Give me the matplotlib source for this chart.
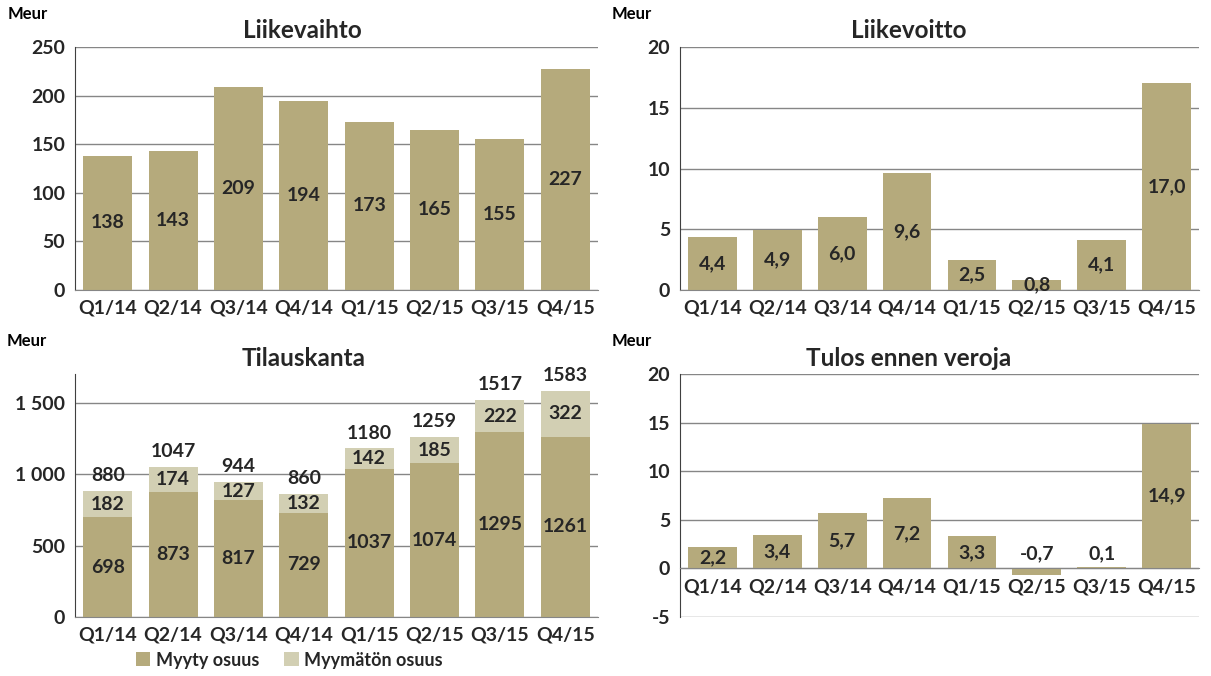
import matplotlib.pyplot as plt
import numpy as np

quarters = ['Q1/14', 'Q2/14', 'Q3/14', 'Q4/14', 'Q1/15', 'Q2/15', 'Q3/15', 'Q4/15']

liikevaihto = [138, 143, 209, 194, 173, 165, 155, 227]
liikevoitto = [4.4, 4.9, 6.0, 9.6, 2.5, 0.8, 4.1, 17.0]
tulos = [2.2, 3.4, 5.7, 7.2, 3.3, -0.7, 0.1, 14.9]
myyty = [698, 873, 817, 729, 1037, 1074, 1295, 1261]
myymaton = [182, 174, 127, 132, 142, 185, 222, 322]
tilauskanta = [880, 1047, 944, 860, 1180, 1259, 1517, 1583]

BAR = '#b5aa7c'
LIGHT = '#d2cfb3'
TXT = '#262626'
GRID = '#868686'
FS = 14

plt.rcParams['font.family'] = ['Lato', 'DejaVu Sans']
plt.rcParams['font.weight'] = 'bold'

fig = plt.figure(figsize=(12.11, 6.76), dpi=100)
W, H = 1211.0, 676.0


def make_ax(x0, x1, y0, y1):
    return fig.add_axes([x0 / W, 1 - y1 / H, (x1 - x0) / W, (y1 - y0) / H])


def style(ax, ylim, step, fmt):
    ax.set_ylim(*ylim)
    ax.set_xlim(-0.5, len(quarters) - 0.5)
    ticks = np.arange(ylim[0], ylim[1] + step / 2, step)
    ax.set_yticks(ticks)
    ax.set_yticklabels([fmt(t) for t in ticks])
    ax.yaxis.grid(True, color=GRID, linewidth=1)
    ax.set_axisbelow(True)
    for s in ['top', 'right']:
        ax.spines[s].set_visible(False)
    ax.spines['left'].set_color('#404040')
    ax.spines['bottom'].set_color(GRID)
    ax.tick_params(axis='both', length=0, labelsize=FS, labelcolor=TXT, pad=7)
    ax.set_xticks(range(len(quarters)))
    ax.set_xticklabels(quarters, fontweight='bold')
    for lab in ax.get_yticklabels():
        lab.set_fontweight('bold')


def header(ax_x, title, cx, ty, my):
    fig.text(ax_x / W, 1 - my / H, 'Meur', fontsize=12, color='black', va='center', fontweight='bold')
    fig.text(cx / W, 1 - ty / H, title, fontsize=17.5, color=TXT, ha='center', va='center',
             fontweight='bold')


x = np.arange(len(quarters))

# Liikevaihto
ax1 = make_ax(75, 598, 47, 290)
style(ax1, (0, 250), 50, lambda t: f'{int(t)}')
ax1.bar(x, liikevaihto, width=0.75, color=BAR)
for i, v in enumerate(liikevaihto):
    ax1.text(i, v / 2, f'{v}', ha='center', va='center', fontsize=FS, color=TXT, fontweight='bold')
header(8, 'Liikevaihto', 302, 31, 14)

# Liikevoitto
ax2 = make_ax(680, 1199, 47, 290)
style(ax2, (0, 20), 5, lambda t: f'{int(t)}')
ax2.bar(x, liikevoitto, width=0.75, color=BAR)
for i, v in enumerate(liikevoitto):
    ax2.text(i, v / 2, f'{v:.1f}'.replace('.', ','), ha='center', va='center', fontsize=FS,
             color=TXT, fontweight='bold')
header(612, 'Liikevoitto', 909, 31, 14)

# Tilauskanta
ax3 = make_ax(75, 598, 374, 617)
style(ax3, (0, 1700), 500, lambda t: f'{int(t)}')
ax3.set_yticks([0, 500, 1000, 1500])
ax3.set_yticklabels(['0', '500', '1 000', '1 500'], fontweight='bold')
ax3.bar(x, myyty, width=0.75, color=BAR, label='Myyty osuus')
ax3.bar(x, myymaton, width=0.75, bottom=myyty, color=LIGHT, label='Myymätön osuus')
for i in range(len(quarters)):
    ax3.text(i, myyty[i] / 2, f'{myyty[i]}', ha='center', va='center', fontsize=FS,
             color=TXT, fontweight='bold')
    ax3.text(i, myyty[i] + myymaton[i] / 2, f'{myymaton[i]}', ha='center', va='center',
             fontsize=FS, color=TXT, fontweight='bold')
    ax3.annotate(f'{tilauskanta[i]}', (i, myyty[i] + myymaton[i]), xytext=(0, 5),
                 textcoords='offset points', ha='center', va='bottom', fontsize=FS,
                 color=TXT, fontweight='bold')
leg = ax3.legend(loc='center', bbox_to_anchor=(0.41, -0.177), ncol=2, frameon=False,
                 fontsize=13, handlelength=0.8, handleheight=0.8, handletextpad=0.3,
                 columnspacing=1.4, borderpad=0)
for t in leg.get_texts():
    t.set_color(TXT)
    t.set_fontweight('bold')
header(7, 'Tilauskanta', 304, 358, 341)

# Tulos ennen veroja
ax4 = make_ax(680, 1199, 374, 617)
style(ax4, (-5, 20), 5, lambda t: f'{int(t)}')
ax4.spines['bottom'].set_position(('data', 0))
ax4.bar(x, tulos, width=0.75, color=BAR)
for i, v in enumerate(tulos):
    ypos = v / 2 if abs(v) >= 1 else 1.5
    ax4.text(i, ypos, f'{v:.1f}'.replace('.', ','), ha='center', va='center', fontsize=FS,
             color=TXT, fontweight='bold')
header(612, 'Tulos ennen veroja', 909, 358, 341)

fig.savefig('out.png', dpi=100)
